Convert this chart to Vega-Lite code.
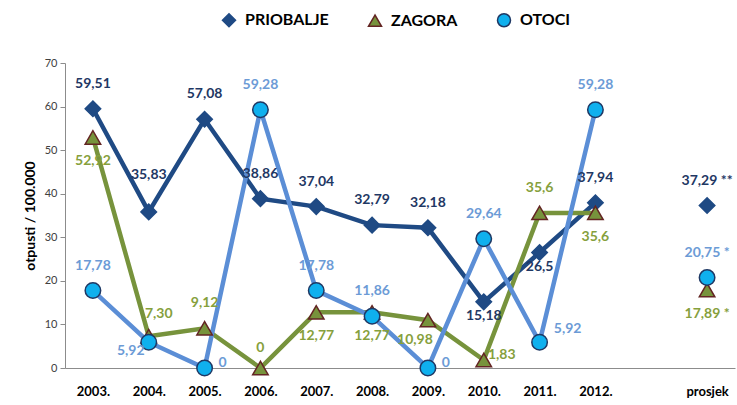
{
  "$schema": "https://vega.github.io/schema/vega-lite/v6.json",
  "width": 670,
  "height": 305,
  "autosize": {"type": "none"},
  "padding": {"left": 65, "top": 63, "right": 2, "bottom": 37},
  "background": "white",
  "config": {
    "view": {"stroke": null},
    "font": "Lato",
    "legend": {
      "orient": "none",
      "legendX": 156,
      "legendY": -51,
      "direction": "horizontal",
      "labelFont": "Lato",
      "labelFontSize": 16,
      "labelFontWeight": "bold",
      "labelColor": "#000000",
      "symbolSize": 170,
      "columnPadding": 36,
      "symbolStrokeWidth": 1.5,
      "labelOffset": 8
    }
  },
  "data": {
    "values": [
      {"s": "PRIOBALJE", "year": "2003.", "v": 59.51, "lab": "59,51"},
      {"s": "PRIOBALJE", "year": "2004.", "v": 35.83, "lab": "35,83"},
      {"s": "PRIOBALJE", "year": "2005.", "v": 57.08, "lab": "57,08"},
      {"s": "PRIOBALJE", "year": "2006.", "v": 38.86, "lab": "38,86"},
      {"s": "PRIOBALJE", "year": "2007.", "v": 37.04, "lab": "37,04"},
      {"s": "PRIOBALJE", "year": "2008.", "v": 32.79, "lab": "32,79"},
      {"s": "PRIOBALJE", "year": "2009.", "v": 32.18, "lab": "32,18"},
      {"s": "PRIOBALJE", "year": "2010.", "v": 15.18, "lab": "15,18"},
      {"s": "PRIOBALJE", "year": "2011.", "v": 26.5, "lab": "26,5"},
      {"s": "PRIOBALJE", "year": "2012.", "v": 37.94, "lab": "37,94"},
      {"s": "PRIOBALJE", "year": "prosjek", "v": 37.29, "lab": "37,29 **"},
      {"s": "ZAGORA", "year": "2003.", "v": 52.92, "lab": "52,92"},
      {"s": "ZAGORA", "year": "2004.", "v": 7.3, "lab": "7,30"},
      {"s": "ZAGORA", "year": "2005.", "v": 9.12, "lab": "9,12"},
      {"s": "ZAGORA", "year": "2006.", "v": 0, "lab": "0"},
      {"s": "ZAGORA", "year": "2007.", "v": 12.77, "lab": "12,77"},
      {"s": "ZAGORA", "year": "2008.", "v": 12.77, "lab": "12,77"},
      {"s": "ZAGORA", "year": "2009.", "v": 10.98, "lab": "10,98"},
      {"s": "ZAGORA", "year": "2010.", "v": 1.83, "lab": "1,83"},
      {"s": "ZAGORA", "year": "2011.", "v": 35.6, "lab": "35,6"},
      {"s": "ZAGORA", "year": "2012.", "v": 35.6, "lab": "35,6"},
      {"s": "ZAGORA", "year": "prosjek", "v": 17.89, "lab": "17,89 *"},
      {"s": "OTOCI", "year": "2003.", "v": 17.78, "lab": "17,78"},
      {"s": "OTOCI", "year": "2004.", "v": 5.92, "lab": "5,92"},
      {"s": "OTOCI", "year": "2005.", "v": 0, "lab": "0"},
      {"s": "OTOCI", "year": "2006.", "v": 59.28, "lab": "59,28"},
      {"s": "OTOCI", "year": "2007.", "v": 17.78, "lab": "17,78"},
      {"s": "OTOCI", "year": "2008.", "v": 11.86, "lab": "11,86"},
      {"s": "OTOCI", "year": "2009.", "v": 0, "lab": "0"},
      {"s": "OTOCI", "year": "2010.", "v": 29.64, "lab": "29,64"},
      {"s": "OTOCI", "year": "2011.", "v": 5.92, "lab": "5,92"},
      {"s": "OTOCI", "year": "2012.", "v": 59.28, "lab": "59,28"},
      {"s": "OTOCI", "year": "prosjek", "v": 20.75, "lab": "20,75 *"}
    ]
  },
  "encoding": {
    "x": {
      "field": "year",
      "type": "nominal",
      "sort": null,
      "scale": {"type": "point", "padding": 0.5, "domain": ["2003.", "2004.", "2005.", "2006.", "2007.", "2008.", "2009.", "2010.", "2011.", "2012.", " ", "prosjek"]},
      "axis": {
        "title": null,
        "labelAngle": 0,
        "ticks": false,
        "domainColor": "#8c8c8c",
        "labelFont": "Lato",
        "labelFontWeight": "bold",
        "labelFontSize": 13,
        "labelColor": "#000000",
        "labelPadding": 17
      }
    },
    "y": {
      "field": "v",
      "type": "quantitative",
      "scale": {"domain": [0, 70], "nice": false},
      "axis": {
        "title": "otpusti / 100.000",
        "titleFont": "Lato",
        "titleFontSize": 14,
        "titleFontWeight": "bold",
        "titleColor": "#000000",
        "titlePadding": 7,
        "values": [0, 10, 20, 30, 40, 50, 60, 70],
        "grid": false,
        "domainColor": "#8c8c8c",
        "tickColor": "#8c8c8c",
        "tickSize": 5,
        "labelFont": "Lato",
        "labelFontSize": 11,
        "labelColor": "#404040",
        "labelPadding": 3
      }
    }
  },
  "layer": [
    {
      "transform": [{"filter": "datum.year != 'prosjek'"}],
      "mark": {"type": "line", "strokeWidth": 4.5},
      "encoding": {
        "detail": {"field": "s", "type": "nominal"},
        "color": {"condition": [{"test": "datum.s=='PRIOBALJE'", "value": "#1F4A84"}, {"test": "datum.s=='ZAGORA'", "value": "#77933C"}], "value": "#5B8ED6"}
      }
    },
    {
      "mark": {"type": "point", "filled": true, "size": 240, "strokeWidth": 1.5, "opacity": 1},
      "encoding": {
        "color": {
          "field": "s",
          "type": "nominal",
          "scale": {"domain": ["PRIOBALJE", "ZAGORA", "OTOCI"], "range": ["#1F4A84", "#77933C", "#0FB0EE"]},
          "legend": {"title": null}
        },
        "stroke": {
          "field": "s",
          "type": "nominal",
          "scale": {"domain": ["PRIOBALJE", "ZAGORA", "OTOCI"], "range": ["#1F4A84", "#632523", "#1F3864"]},
          "legend": {"title": null}
        },
        "shape": {
          "field": "s",
          "type": "nominal",
          "scale": {"domain": ["PRIOBALJE", "ZAGORA", "OTOCI"], "range": ["diamond", "triangle-up", "circle"]},
          "legend": {"title": null}
        }
      }
    },
    {
      "transform": [{"filter": "(datum.s=='PRIOBALJE' && indexof(['2003.','2005.','2006.','2007.','2008.','2009.','2012.','prosjek'], datum.year) >= 0) || (datum.s=='ZAGORA' && indexof(['2005.','2011.'], datum.year) >= 0) || (datum.s=='OTOCI' && indexof(['2003.','2006.','2007.','2008.','2010.','2012.','prosjek'], datum.year) >= 0)"}],
      "mark": {"type": "text", "dy": -25, "font": "Lato", "fontSize": 14, "fontWeight": "bold", "baseline": "middle"},
      "encoding": {
        "text": {"field": "lab"},
        "color": {"condition": [{"test": "datum.s=='PRIOBALJE'", "value": "#1F3864"}, {"test": "datum.s=='ZAGORA'", "value": "#86A03C"}], "value": "#6C9BD6"}
      }
    },
    {
      "transform": [{"filter": "datum.s=='PRIOBALJE' && datum.year=='2004.'"}],
      "mark": {"type": "text", "dy": -37, "font": "Lato", "fontSize": 14, "fontWeight": "bold", "baseline": "middle"},
      "encoding": {
        "text": {"field": "lab"},
        "color": {"value": "#1F3864"}
      }
    },
    {
      "transform": [{"filter": "datum.s=='ZAGORA' && datum.year=='2006.'"}],
      "mark": {"type": "text", "dy": -20, "font": "Lato", "fontSize": 14, "fontWeight": "bold", "baseline": "middle"},
      "encoding": {
        "text": {"field": "lab"},
        "color": {"value": "#86A03C"}
      }
    },
    {
      "transform": [{"filter": "datum.s=='ZAGORA' && indexof(['2003.','2007.','2008.','2012.','prosjek'], datum.year) >= 0"}],
      "mark": {"type": "text", "dy": 24, "font": "Lato", "fontSize": 14, "fontWeight": "bold", "baseline": "middle"},
      "encoding": {
        "text": {"field": "lab"},
        "color": {"value": "#86A03C"}
      }
    },
    {
      "transform": [{"filter": "datum.s=='PRIOBALJE' && indexof(['2010.','2011.'], datum.year) >= 0"}],
      "mark": {"type": "text", "dy": 14, "font": "Lato", "fontSize": 14, "fontWeight": "bold", "baseline": "middle"},
      "encoding": {
        "text": {"field": "lab"},
        "color": {"value": "#1F3864"}
      }
    },
    {
      "transform": [{"filter": "(datum.s=='OTOCI' && indexof(['2005.','2009.'], datum.year) >= 0) || (datum.s=='ZAGORA' && datum.year=='2010.')"}],
      "mark": {"type": "text", "dx": 18, "dy": -5, "font": "Lato", "fontSize": 14, "fontWeight": "bold", "baseline": "middle"},
      "encoding": {
        "text": {"field": "lab"},
        "color": {"condition": {"test": "datum.s=='ZAGORA'", "value": "#86A03C"}, "value": "#6C9BD6"}
      }
    },
    {
      "transform": [{"filter": "datum.s=='OTOCI' && datum.year=='2011.'"}],
      "mark": {"type": "text", "dx": 28, "dy": -13, "font": "Lato", "fontSize": 14, "fontWeight": "bold", "baseline": "middle"},
      "encoding": {
        "text": {"field": "lab"},
        "color": {"value": "#6C9BD6"}
      }
    },
    {
      "transform": [{"filter": "datum.s=='OTOCI' && datum.year=='2004.'"}],
      "mark": {"type": "text", "dx": -18, "dy": 9, "font": "Lato", "fontSize": 14, "fontWeight": "bold", "baseline": "middle"},
      "encoding": {
        "text": {"field": "lab"},
        "color": {"value": "#6C9BD6"}
      }
    },
    {
      "transform": [{"filter": "datum.s=='ZAGORA' && datum.year=='2009.'"}],
      "mark": {"type": "text", "dx": -13, "dy": 20, "font": "Lato", "fontSize": 14, "fontWeight": "bold", "baseline": "middle"},
      "encoding": {
        "text": {"field": "lab"},
        "color": {"value": "#86A03C"}
      }
    },
    {
      "transform": [{"filter": "datum.s=='ZAGORA' && datum.year=='2004.'"}],
      "mark": {"type": "text", "dx": 10, "dy": -22, "font": "Lato", "fontSize": 14, "fontWeight": "bold", "baseline": "middle"},
      "encoding": {
        "text": {"field": "lab"},
        "color": {"value": "#86A03C"}
      }
    }
  ]
}
